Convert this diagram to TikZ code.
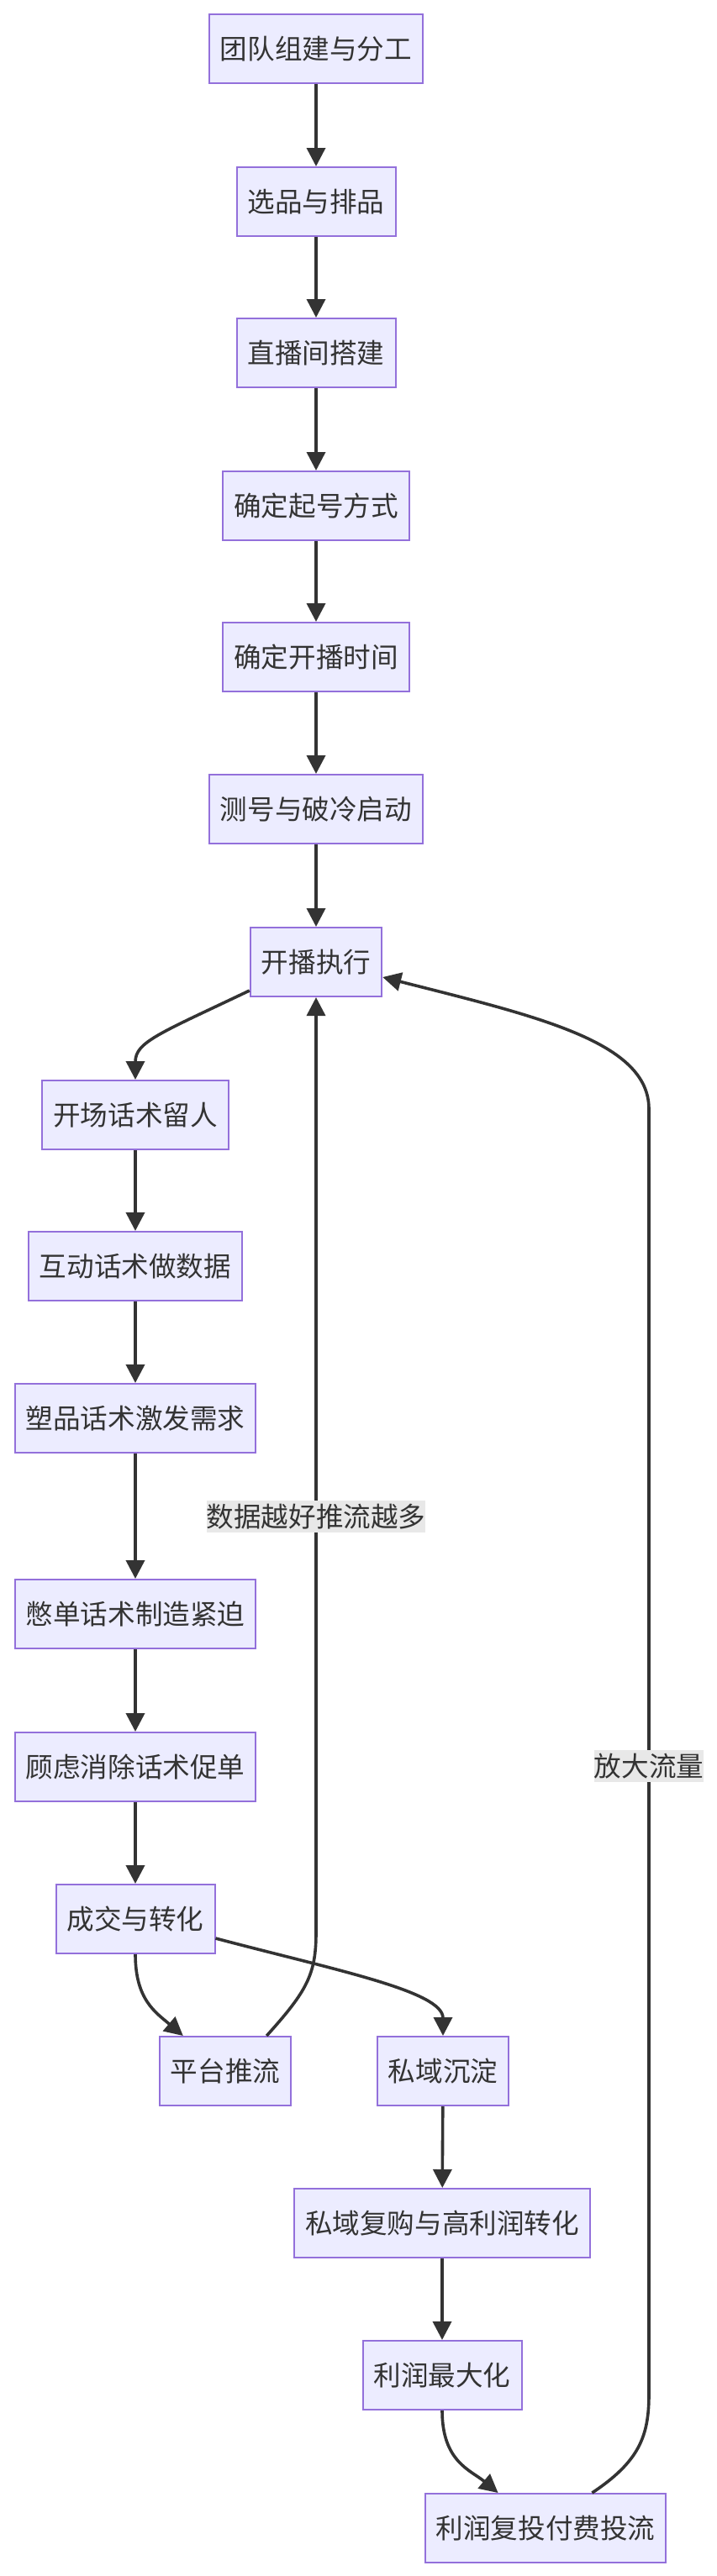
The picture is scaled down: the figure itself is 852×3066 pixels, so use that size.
\documentclass[tikz,border=0pt]{standalone}
\usepackage{fontspec}
\newfontfamily\cjk{Noto Sans CJK SC}
\usetikzlibrary{arrows.meta}
\definecolor{nodefill}{HTML}{ECECFF}
\definecolor{nodeborder}{HTML}{9370DB}
\definecolor{txt}{HTML}{333333}
\definecolor{edgec}{HTML}{333333}
\definecolor{lblbg}{HTML}{E8E8E8}
\begin{document}
\begin{tikzpicture}[x=1pt,y=-1pt,
  box/.style={draw=nodeborder, fill=nodefill, line width=2pt, minimum height=82pt,
    inner xsep=13pt, inner ysep=0pt, font=\cjk\fontsize{32.6}{38}\selectfont, text=txt},
  arr/.style={draw=edgec, line width=3.6pt, -{Triangle[length=22pt,width=22pt]}},
  lbl/.style={fill=lblbg, inner sep=0pt, minimum height=38pt, font=\cjk\fontsize{32.6}{38}\selectfont, text=txt}]
\useasboundingbox (0,0) rectangle (852,3066);
\node[box] (n1) at (376,58) {团队组建与分工};
\node[box] (n2) at (376,240) {选品与排品};
\node[box] (n3) at (376,420) {直播间搭建};
\node[box] (n4) at (376,602) {确定起号方式};
\node[box] (n5) at (376,782) {确定开播时间};
\node[box] (n6) at (376,963) {测号与破冷启动};
\node[box] (n7) at (376,1145) {开播执行};
\node[box] (n8) at (161,1327) {开场话术留人};
\node[box] (n9) at (161,1507) {互动话术做数据};
\node[box] (n10) at (161,1688) {塑品话术激发需求};
\node[box] (n11) at (161,1921) {憋单话术制造紧迫};
\node[box] (n12) at (161,2103) {顾虑消除话术促单};
\node[box] (n13) at (161,2284) {成交与转化};
\node[box] (n14) at (268,2465) {平台推流};
\node[box] (n15) at (527,2465) {私域沉淀};
\node[box] (n16) at (526,2646) {私域复购与高利润转化};
\node[box] (n17) at (526,2827) {利润最大化};
\node[box] (n18) at (649,3009) {利润复投付费投流};

\draw[arr] (n1) -- (n2);
\draw[arr] (n2) -- (n3);
\draw[arr] (n3) -- (n4);
\draw[arr] (n4) -- (n5);
\draw[arr] (n5) -- (n6);
\draw[arr] (n6) -- (n7);
\draw[arr] ([yshift=8pt]n7.south west) .. controls (190,1230) and (161,1240) .. (n8.north);
\draw[arr] (n8) -- (n9);
\draw[arr] (n9) -- (n10);
\draw[arr] (n10) -- (n11);
\draw[arr] (n11) -- (n12);
\draw[arr] (n12) -- (n13);
\draw[arr] (n13.south) .. controls (161,2380) and (185,2395) .. ([xshift=29pt]n14.north west);
\draw[arr] ([yshift=-23pt]n13.east) .. controls (400,2345) and (527,2370) .. (n15.north);
\draw[arr] ([xshift=-30pt]n14.north east) .. controls (365,2370) and (376,2350) .. (376,2300) -- (n7.south);
\draw[arr] (n15) -- (n16);
\draw[arr] (n16) -- (n17);
\draw[arr] (n17.south) .. controls (526,2930) and (560,2940) .. ([xshift=88pt]n18.north west);
\draw[arr] ([xshift=-89pt]n18.north east) .. controls (760,2930) and (772,2900) .. (772,2850) -- (772,1320) .. controls (772,1240) and (640,1210) .. ([yshift=-18pt]n7.east);

\node[lbl] (l1) at (376,1805) {数据越好推流越多};
\node[lbl] (l2) at (772,2102) {放大流量};
\end{tikzpicture}
\end{document}
